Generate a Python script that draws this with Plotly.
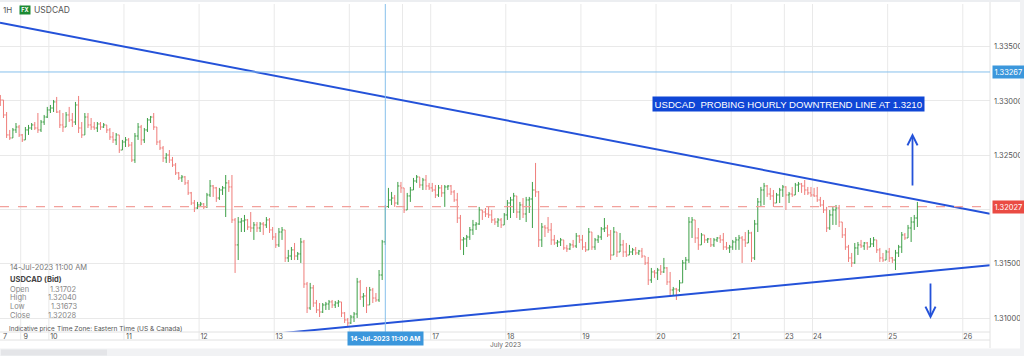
import plotly.graph_objects as go

# ---------------- data (USDCAD hourly bid, bars indexed by trading hour) ----------------
bar_start = -7            # first bar = Fri 7 Jul 10:00 (index of trading hours)
first_open = 1.33037

highs = [
    # Fri 7
    1.33055, 1.33009, 1.32898, 1.32733, 1.32751, 1.32797, 1.32779,
    # Sun 9
    1.32696, 1.32760, 1.32779, 1.32797, 1.32806, 1.32889, 1.32825, 1.32871, 1.32945,
    # Mon 10
    1.32963, 1.33009, 1.33037, 1.32917, 1.32889, 1.32898, 1.32945, 1.32889, 1.32991, 1.33046, 1.32806, 1.32889,
    1.32889, 1.32843, 1.32806, 1.32806, 1.32806, 1.32797, 1.32779, 1.32751, 1.32714, 1.32705, 1.32687, 1.32641,
    # Tue 11
    1.32668, 1.32659, 1.32622, 1.32705, 1.32797, 1.32779, 1.32751, 1.32843, 1.32862, 1.32889, 1.32760, 1.32641,
    1.32585, 1.32521, 1.32548, 1.32484, 1.32429, 1.32346, 1.32318, 1.32309, 1.32272, 1.32162, 1.32088, 1.32070,
    # Wed 12
    1.32070, 1.32060, 1.32153, 1.32272, 1.32226, 1.32208, 1.32199, 1.32217, 1.32318, 1.32272, 1.32318, 1.31922,
    1.31931, 1.31922, 1.31950, 1.31913, 1.31977, 1.31885, 1.31885, 1.31885, 1.31885, 1.31931, 1.31922, 1.31839,
    # Thu 13
    1.31784, 1.31830, 1.31839, 1.31812, 1.31628, 1.31655, 1.31692, 1.31609, 1.31738, 1.31720, 1.31333, 1.31324,
    1.31305, 1.31167, 1.31139, 1.31139, 1.31149, 1.31167, 1.31167, 1.31158, 1.31167, 1.31149, 1.31056, 1.31001,
    # Fri 14
    1.31029, 1.31056, 1.31370, 1.31351, 1.31231, 1.31287, 1.31287, 1.31278, 1.31231, 1.31443, 1.31720, 1.32040,
    1.32199, 1.32162, 1.32134, 1.32254, 1.32254,
    # Sun 16
    1.32199, 1.32153, 1.32208, 1.32291, 1.32318, 1.32291, 1.32291, 1.32318, 1.32245,
    # Mon 17
    1.32245, 1.32226, 1.32226, 1.32226, 1.32226, 1.32226, 1.32226, 1.32180, 1.32153, 1.31950, 1.31747, 1.31766,
    1.31839, 1.31904, 1.31885, 1.32024, 1.31996, 1.32014, 1.32024, 1.31996, 1.31922, 1.31922, 1.31922, 1.31968,
    # Tue 18
    1.32088, 1.32116, 1.32153, 1.32088, 1.32070, 1.32106, 1.32116, 1.32116, 1.32254, 1.32429, 1.32171, 1.31876,
    1.31858, 1.31931, 1.31876, 1.31766, 1.31720, 1.31738, 1.31692, 1.31674, 1.31692, 1.31720, 1.31784, 1.31766,
    # Wed 19
    1.31766, 1.31701, 1.31830, 1.31766, 1.31738, 1.31766, 1.31839, 1.31922, 1.31858, 1.31812, 1.31839, 1.31747,
    1.31784, 1.31720, 1.31692, 1.31674, 1.31646, 1.31655, 1.31628, 1.31646, 1.31563, 1.31563, 1.31462, 1.31443,
    # Thu 20
    1.31462, 1.31489, 1.31554, 1.31470, 1.31425, 1.31287, 1.31278, 1.31351, 1.31535, 1.31563, 1.31931, 1.31931,
    1.31839, 1.31830, 1.31784, 1.31747, 1.31738, 1.31738, 1.31738, 1.31747, 1.31766, 1.31784, 1.31701, 1.31674,
    # Fri 21
    1.31720, 1.31747, 1.31766, 1.31756, 1.31793, 1.31812, 1.31795, 1.31904, 1.32106, 1.32208, 1.32245, 1.32226,
    1.32199, 1.32180, 1.32153, 1.32199, 1.32226,
    # Sun 23
    1.32215, 1.32162, 1.32208, 1.32245, 1.32254, 1.32245, 1.32272, 1.32208, 1.32208,
    # Mon 24
    1.32199, 1.32208, 1.32116, 1.32088, 1.32024, 1.31996, 1.32024, 1.32042, 1.32042, 1.31885, 1.31830, 1.31674,
    1.31600, 1.31692, 1.31701, 1.31720, 1.31701, 1.31701, 1.31738, 1.31747, 1.31692, 1.31646, 1.31600, 1.31628,
    # Tue 25
    1.31646, 1.31563, 1.31628, 1.31674, 1.31793, 1.31784, 1.31858, 1.31931, 1.31950, 1.32070,
]

lows = [
    # Fri 7
    1.32954, 1.32843, 1.32659, 1.32641, 1.32659, 1.32705, 1.32668,
    # Sun 9
    1.32622, 1.32641, 1.32687, 1.32733, 1.32733, 1.32705, 1.32714, 1.32779, 1.32843,
    # Mon 10
    1.32889, 1.32898, 1.32889, 1.32751, 1.32714, 1.32760, 1.32806, 1.32760, 1.32779, 1.32705, 1.32659, 1.32687,
    1.32751, 1.32733, 1.32733, 1.32714, 1.32733, 1.32751, 1.32705, 1.32641, 1.32613, 1.32594, 1.32521, 1.32548,
    # Tue 11
    1.32576, 1.32576, 1.32438, 1.32429, 1.32641, 1.32594, 1.32613, 1.32714, 1.32797, 1.32733, 1.32594, 1.32548,
    1.32438, 1.32429, 1.32429, 1.32392, 1.32318, 1.32272, 1.32254, 1.32226, 1.32134, 1.32042, 1.31977, 1.32005,
    # Wed 12
    1.32024, 1.32005, 1.32014, 1.32116, 1.32116, 1.32070, 1.32088, 1.32134, 1.31931, 1.32162, 1.31876, 1.31416,
    1.31535, 1.31793, 1.31793, 1.31812, 1.31793, 1.31720, 1.31793, 1.31793, 1.31766, 1.31830, 1.31784, 1.31720,
    # Thu 13
    1.31646, 1.31655, 1.31720, 1.31517, 1.31517, 1.31535, 1.31535, 1.31535, 1.31508, 1.31278, 1.31047, 1.31075,
    1.31103, 1.31047, 1.31010, 1.31047, 1.31075, 1.31075, 1.31093, 1.31093, 1.31103, 1.31010, 1.30955, 1.30918,
    # Fri 14
    1.30946, 1.30964, 1.31001, 1.31167, 1.31103, 1.31047, 1.31121, 1.31139, 1.31149, 1.31149, 1.31351, 1.31673,
    1.32014, 1.32042, 1.32024, 1.32042, 1.32153,
    # Sun 16
    1.31968, 1.32042, 1.32070, 1.32180, 1.32245, 1.32199, 1.32180, 1.32180, 1.32180,
    # Mon 17
    1.32162, 1.32106, 1.32116, 1.32116, 1.32024, 1.32180, 1.32134, 1.32070, 1.31876, 1.31628, 1.31581, 1.31655,
    1.31720, 1.31766, 1.31812, 1.31858, 1.31904, 1.31931, 1.31922, 1.31876, 1.31858, 1.31839, 1.31830, 1.31876,
    # Tue 18
    1.31904, 1.31922, 1.31968, 1.31922, 1.31904, 1.31922, 1.31885, 1.31968, 1.31830, 1.32116, 1.31655, 1.31655,
    1.31747, 1.31784, 1.31674, 1.31674, 1.31655, 1.31664, 1.31628, 1.31609, 1.31628, 1.31646, 1.31646, 1.31692,
    # Wed 19
    1.31628, 1.31609, 1.31628, 1.31628, 1.31628, 1.31692, 1.31720, 1.31793, 1.31747, 1.31535, 1.31628, 1.31563,
    1.31628, 1.31563, 1.31563, 1.31581, 1.31581, 1.31581, 1.31581, 1.31554, 1.31489, 1.31305, 1.31324, 1.31370,
    # Thu 20
    1.31351, 1.31397, 1.31416, 1.31305, 1.31213, 1.31213, 1.31167, 1.31241, 1.31333, 1.31443, 1.31508, 1.31738,
    1.31692, 1.31628, 1.31720, 1.31692, 1.31692, 1.31655, 1.31655, 1.31701, 1.31692, 1.31628, 1.31628, 1.31600,
    # Fri 21
    1.31628, 1.31628, 1.31628, 1.31508, 1.31655, 1.31692, 1.31517, 1.31535, 1.31793, 1.32024, 1.32042, 1.32116,
    1.32088, 1.32024, 1.32060, 1.32060, 1.32116,
    # Sun 23
    1.31996, 1.32060, 1.32116, 1.32180, 1.32162, 1.32153, 1.32134, 1.32134, 1.32116,
    # Mon 24
    1.32116, 1.32070, 1.32024, 1.31968, 1.31793, 1.31812, 1.31858, 1.31858, 1.31839, 1.31738, 1.31628, 1.31517,
    1.31471, 1.31500, 1.31581, 1.31646, 1.31628, 1.31628, 1.31655, 1.31655, 1.31600, 1.31517, 1.31517, 1.31554,
    # Tue 25
    1.31517, 1.31508, 1.31443, 1.31563, 1.31600, 1.31720, 1.31738, 1.31701, 1.31812, 1.31839,
]

closes = [
    # Fri 7
    1.33009, 1.32871, 1.32687, 1.32659, 1.32733, 1.32760, 1.32687,
    # Sun 9
    1.32641, 1.32733, 1.32751, 1.32779, 1.32751, 1.32733, 1.32806, 1.32852, 1.32917,
    # Mon 10
    1.32935, 1.32991, 1.32898, 1.32779, 1.32760, 1.32871, 1.32825, 1.32806, 1.32963, 1.32751, 1.32687, 1.32852,
    1.32779, 1.32760, 1.32751, 1.32788, 1.32760, 1.32779, 1.32733, 1.32668, 1.32641, 1.32687, 1.32548, 1.32622,
    # Tue 11
    1.32641, 1.32594, 1.32456, 1.32677, 1.32760, 1.32641, 1.32733, 1.32825, 1.32852, 1.32760, 1.32622, 1.32567,
    1.32475, 1.32502, 1.32456, 1.32410, 1.32337, 1.32291, 1.32300, 1.32245, 1.32153, 1.32060, 1.32014, 1.32042,
    # Wed 12
    1.32051, 1.32024, 1.32134, 1.32217, 1.32199, 1.32106, 1.32180, 1.32199, 1.32245, 1.32208, 1.31904, 1.31674,
    1.31885, 1.31895, 1.31904, 1.31839, 1.31830, 1.31858, 1.31830, 1.31867, 1.31858, 1.31904, 1.31812, 1.31747,
    # Thu 13
    1.31674, 1.31793, 1.31812, 1.31554, 1.31572, 1.31628, 1.31572, 1.31591, 1.31701, 1.31314, 1.31093, 1.31278,
    1.31139, 1.31075, 1.31056, 1.31121, 1.31130, 1.31149, 1.31121, 1.31139, 1.31149, 1.31047, 1.30983, 1.30955,
    # Fri 14
    1.31010, 1.31038, 1.31333, 1.31195, 1.31204, 1.31121, 1.31259, 1.31185, 1.31167, 1.31397, 1.31702, 1.32028,
    1.32088, 1.32106, 1.32060, 1.32217, 1.32199,
    # Sun 16
    1.31996, 1.32125, 1.32180, 1.32263, 1.32300, 1.32226, 1.32272, 1.32217, 1.32199,
    # Mon 17
    1.32180, 1.32134, 1.32199, 1.32153, 1.32208, 1.32217, 1.32162, 1.32088, 1.31922, 1.31720, 1.31729, 1.31747,
    1.31812, 1.31858, 1.31867, 1.31996, 1.31977, 1.31959, 1.31950, 1.31904, 1.31885, 1.31904, 1.31858, 1.31950,
    # Tue 18
    1.32060, 1.32088, 1.32125, 1.31977, 1.32042, 1.31959, 1.32088, 1.32097, 1.32180, 1.32162, 1.31720, 1.31839,
    1.31830, 1.31812, 1.31720, 1.31692, 1.31701, 1.31720, 1.31646, 1.31637, 1.31674, 1.31664, 1.31756, 1.31720,
    # Wed 19
    1.31655, 1.31628, 1.31793, 1.31655, 1.31720, 1.31747, 1.31821, 1.31830, 1.31766, 1.31581, 1.31793, 1.31609,
    1.31674, 1.31609, 1.31581, 1.31609, 1.31628, 1.31600, 1.31618, 1.31572, 1.31508, 1.31351, 1.31425, 1.31416,
    # Thu 20
    1.31443, 1.31425, 1.31462, 1.31333, 1.31259, 1.31268, 1.31259, 1.31324, 1.31508, 1.31535, 1.31885, 1.31904,
    1.31738, 1.31674, 1.31766, 1.31720, 1.31729, 1.31674, 1.31720, 1.31738, 1.31720, 1.31655, 1.31646, 1.31655,
    # Fri 21
    1.31701, 1.31720, 1.31738, 1.31720, 1.31692, 1.31784, 1.31554, 1.31867, 1.32070, 1.32180, 1.32217, 1.32143,
    1.32125, 1.32060, 1.32134, 1.32180, 1.32208,
    # Sun 23
    1.32134, 1.32143, 1.32134, 1.32226, 1.32235, 1.32217, 1.32180, 1.32153, 1.32134,
    # Mon 24
    1.32125, 1.32088, 1.32042, 1.31996, 1.31830, 1.31950, 1.31996, 1.32014, 1.31885, 1.31766, 1.31655, 1.31554,
    1.31508, 1.31646, 1.31674, 1.31664, 1.31692, 1.31655, 1.31683, 1.31720, 1.31628, 1.31554, 1.31535, 1.31609,
    # Tue 25
    1.31554, 1.31535, 1.31600, 1.31655, 1.31766, 1.31738, 1.31830, 1.31885, 1.31922, 1.32027,
]

# x-axis: session-day boundaries (trading-hour index) and their labels
# ("14" and "16" sit under the cursor time tag and are not shown in the reference)
day_labels = ["7", "9", "10", "11", "12", "13", "", "", "17", "18", "19", "20", "21", "23", "24", "25", "26"]
day_bounds = [-7.1, -0.5, 8.5, 32.5, 56.5, 80.5, 104.5, 121.5, 130.5, 154.5, 178.5, 202.5, 226.5, 243.5,
              252.5, 276.5, 300.5]
# y-axis ticks (1.32000 sits under the last-price tag)
price_ticks = [1.31, 1.315, 1.325, 1.33, 1.335]
price_tick_text = ["1.31000", "1.31500", "1.32500", "1.33000", "1.33500"]

# drawn trend lines (bar index, price)
downtrend_x = [-7.11, 309.2]
downtrend_y = [1.33721, 1.31962]
uptrend_x = [83.4, 309.2]
uptrend_y = [1.30863, 1.31486]

resistance_level = 1.33267
last_price = 1.32027
cursor_bar = 116
cursor_label = "14-Jul-2023 11:00 AM"

x_range = [-7.11, 309.2]
y_range = [1.30872, 1.33893]

# ---------------- figure ----------------
n = len(closes)
assert len(highs) == n and len(lows) == n
bars = list(range(bar_start, bar_start + n))
opens = [first_open] + closes[:-1]
hi = [max(h, o, c) for h, o, c in zip(highs, opens, closes)]
lo = [min(l, o, c) for l, o, c in zip(lows, opens, closes)]

W, H = 1024, 356
ML, MR, MT, MB = 0, 34, 4, 24
PW, PH = W - ML - MR, H - MT - MB


def px(x):
    return (x - ML) / PW


def py(y):
    return (H - MB - y) / PH


GREEN = "#3d9f47"
RED = "#ef7d7a"
BLUE = "#2452d9"
LIGHTBLUE = "#86c0ec"
GRID = "#e9e9e9"
FONT = "Inter, Liberation Sans, Arial"

fig = go.Figure()
fig.add_trace(go.Ohlc(
    x=bars, open=opens, high=hi, low=lo, close=closes,
    increasing=dict(line=dict(color=GREEN, width=1)),
    decreasing=dict(line=dict(color=RED, width=1)),
    tickwidth=0.42, hoverinfo="skip", showlegend=False,
))
fig.add_trace(go.Scatter(x=downtrend_x, y=downtrend_y, mode="lines",
                         line=dict(color=BLUE, width=2), hoverinfo="skip", showlegend=False))
fig.add_trace(go.Scatter(x=uptrend_x, y=uptrend_y, mode="lines",
                         line=dict(color=BLUE, width=2), hoverinfo="skip", showlegend=False))

shapes = []
# vertical day grid lines (extend through the date row)
for b in day_bounds[1:]:
    shapes.append(dict(type="line", xref="x", yref="paper", x0=b, x1=b, y0=py(340), y1=1,
                       line=dict(color=GRID, width=1), layer="below"))
# 1.32000 grid line (label hidden under the price tag)
shapes.append(dict(type="line", xref="paper", yref="y", x0=0, x1=1, y0=1.32, y1=1.32,
                   line=dict(color=GRID, width=1), layer="below"))
# frame lines
shapes.append(dict(type="line", xref="paper", yref="paper", x0=0, x1=1, y0=0, y1=0,
                   line=dict(color="#e2e2e2", width=1)))
shapes.append(dict(type="line", xref="paper", yref="paper", x0=0, x1=1, y0=py(340), y1=py(340),
                   line=dict(color="#e2e2e2", width=1)))
shapes.append(dict(type="line", xref="paper", yref="paper", x0=1, x1=1, y0=py(348), y1=py(0),
                   line=dict(color="#e2e2e2", width=1)))
# bottom band and top band
shapes.append(dict(type="rect", xref="paper", yref="paper", x0=px(0), x1=px(W), y0=py(356), y1=py(348.5),
                   fillcolor="#f1f2f4", line=dict(width=0)))
shapes.append(dict(type="rect", xref="paper", yref="paper", x0=px(1), x1=px(107), y0=py(355.5), y1=py(349.5),
                   fillcolor="#e4e5e8", line=dict(width=0)))
shapes.append(dict(type="rect", xref="paper", yref="paper", x0=px(0), x1=px(W), y0=py(2), y1=py(0),
                   fillcolor="#eceef1", line=dict(width=0)))
shapes.append(dict(type="rect", xref="paper", yref="paper", x0=px(1020), x1=px(W), y0=py(356), y1=py(0),
                   fillcolor="#f1f2f4", line=dict(width=0)))
# level lines and cursor
shapes.append(dict(type="line", xref="paper", yref="y", x0=0, x1=1, y0=resistance_level, y1=resistance_level,
                   line=dict(color=LIGHTBLUE, width=1)))
shapes.append(dict(type="line", xref="paper", yref="y", x0=0, x1=1, y0=last_price, y1=last_price,
                   line=dict(color="#f2a19c", width=1.2, dash="dash")))
shapes.append(dict(type="line", xref="x", yref="paper", x0=cursor_bar, x1=cursor_bar, y0=py(333), y1=1,
                   line=dict(color=LIGHTBLUE, width=1)))

ann = []


def text(x, y, s, size=7.5, color="#666", xanchor="left", **kw):
    ann.append(dict(xref="paper", yref="paper", x=px(x), y=py(y), text=s, showarrow=False,
                    xanchor=xanchor, yanchor="middle", font=dict(family=FONT, size=size, color=color), **kw))


# header
text(1, 10, "1H", size=8, color="#555")
ann.append(dict(xref="paper", yref="paper", x=px(25), y=py(10), text="<b>FX</b>", showarrow=False,
                xanchor="center", yanchor="middle", bgcolor="#1b8a32", borderpad=1.2,
                font=dict(family=FONT, size=5.5, color="white")))
text(32, 10, "USDCAD", size=8.5, color="#555")

# info box for the cursor bar
ci = cursor_bar - bar_start
text(8, 267.5, cursor_label, size=7.5, color="#777")
text(8, 279, "<b>USDCAD (Bid)</b>", size=7.5, color="#444")
for lab, val, yy in [("Open", opens[ci], 289.3), ("High", hi[ci], 297.8),
                     ("Low", lo[ci], 306.6), ("Close", closes[ci], 315.6)]:
    text(8, yy, lab, size=7.5, color="#888")
    text(79, yy, f"{val:.5f}", size=7.5, color="#888", xanchor="right")
text(7, 328.8, "Indicative price", size=6.3, color="#555")
text(55, 328.8, "Time Zone: Eastern Time (US & Canada)", size=6.6, color="#555")
text(506, 345, "July 2023", size=6.6, color="#666", xanchor="center")

# banner
ann.append(dict(xref="paper", yref="paper", x=px(788.5), y=py(103.7),
                text="USDCAD  PROBING HOURLY DOWNTREND LINE AT 1.3210", showarrow=False,
                xanchor="center", yanchor="middle", bgcolor="#0f46d6", borderpad=1.6,
                font=dict(family="Liberation Sans, Arial", size=9.6, color="white")))
# arrows
ann.append(dict(xref="paper", yref="paper", x=px(912.5), y=py(133), ax=0, ay=54, text="",
                showarrow=True, arrowhead=5, arrowsize=1.1, arrowwidth=1.8, arrowcolor=BLUE, standoff=0))
ann.append(dict(xref="paper", yref="paper", x=px(930.5), y=py(319), ax=0, ay=-37, text="",
                showarrow=True, arrowhead=5, arrowsize=1.1, arrowwidth=1.8, arrowcolor=BLUE, standoff=0))
# right-axis price tags
ann.append(dict(xref="paper", yref="y", x=px(992), y=resistance_level, text=f"{resistance_level:.5f}",
                showarrow=False, xanchor="left", yanchor="middle", bgcolor="#3b97dc", borderpad=1.5,
                font=dict(family=FONT, size=7.5, color="white")))
ann.append(dict(xref="paper", yref="y", x=px(992), y=last_price, text=f"{last_price:.5f}",
                showarrow=False, xanchor="left", yanchor="middle", bgcolor="#ea4b43", borderpad=1.5,
                font=dict(family=FONT, size=7.5, color="white")))
# cursor time tag
ann.append(dict(xref="x", yref="paper", x=cursor_bar, y=py(338.5), text=f"<b>{cursor_label}</b>",
                showarrow=False, xanchor="center", yanchor="middle", bgcolor="#3b97dc", borderpad=2.5,
                font=dict(family=FONT, size=6.5, color="white")))

fig.update_layout(
    width=W, height=H,
    margin=dict(l=ML, r=MR, t=MT, b=MB, pad=0, autoexpand=False),
    paper_bgcolor="white", plot_bgcolor="white",
    showlegend=False, hovermode=False,
    shapes=shapes, annotations=ann,
    xaxis=dict(range=x_range, tickvals=day_bounds, ticktext=day_labels, showgrid=False, zeroline=False,
               showline=False, ticks="", tickfont=dict(family=FONT, size=7.2, color="#555"),
               ticklabelshift=5, ticklabelstandoff=-1, rangeslider=dict(visible=False), fixedrange=True,
               automargin=False),
    yaxis=dict(range=y_range, side="right", tickvals=price_ticks, ticktext=price_tick_text, showgrid=True,
               gridcolor=GRID, zeroline=False, showline=False, ticks="",
               tickfont=dict(family=FONT, size=7.5, color="#555"), ticklabelstandoff=3,
               fixedrange=True, automargin=False),
)

fig.write_html("out.html", config={"displayModeBar": False},
               post_script="document.body.style.margin='0';")
